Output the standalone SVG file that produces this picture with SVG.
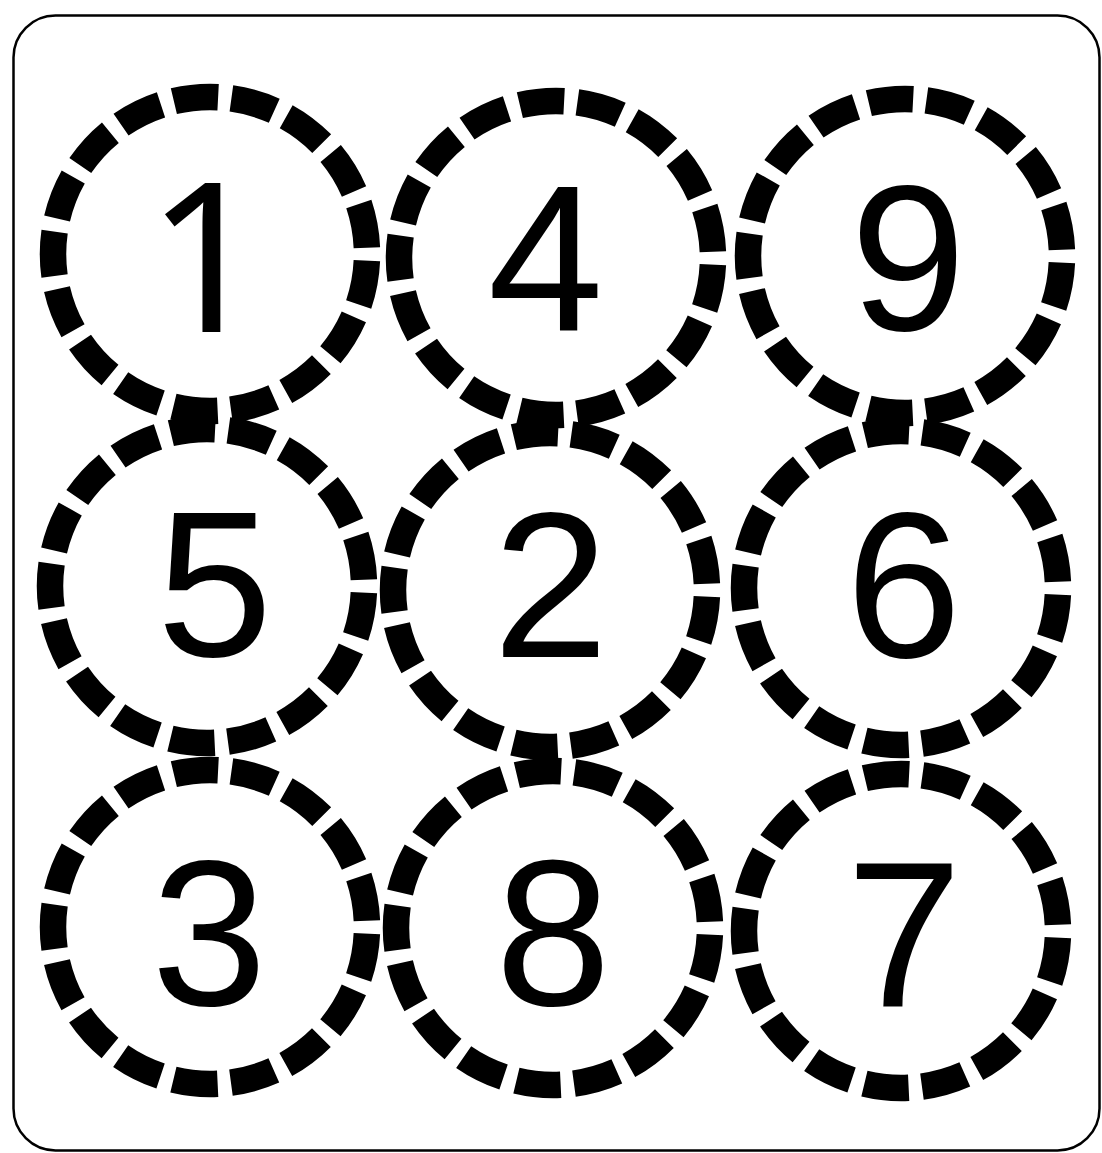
<svg xmlns="http://www.w3.org/2000/svg" width="1102" height="1153" viewBox="0 0 1102 1153">
<style>
.ring{fill:none;stroke:#000;stroke-width:26.5;stroke-dasharray:44.68 13.35;stroke-dashoffset:51.35}
.num{font-family:"Liberation Sans",Arial,sans-serif;font-size:208px;fill:#000;text-anchor:middle}
.one{font-family:"Noto Sans","Liberation Sans",sans-serif}
.frame{fill:#fff;stroke:#000;stroke-width:2.5}
</style>
<rect width="1102" height="1153" fill="#fff"/>
<rect class="frame" x="13.5" y="15.5" width="1086" height="1135" rx="42" ry="42"/>
<g id="connectors"></g>
<g id="n1"><circle class="ring" cx="210" cy="254" r="157"/><text class="num one" x="206" y="332">1</text></g>
<g id="n4"><circle class="ring" cx="556" cy="258" r="157"/><text class="num" x="545.5" y="330">4</text></g>
<g id="n9"><circle class="ring" cx="905" cy="256" r="157"/><text class="num" x="908" y="330">9</text></g>
<g id="n5"><circle class="ring" cx="207" cy="586" r="157"/><text class="num" x="214.5" y="656">5</text></g>
<g id="n2"><circle class="ring" cx="550" cy="590" r="157"/><text class="num" x="550.5" y="657">2</text></g>
<g id="n6"><circle class="ring" cx="901" cy="588" r="157"/><text class="num" x="903.5" y="657">6</text></g>
<g id="n3"><circle class="ring" cx="210" cy="927" r="157"/><text class="num" x="209" y="1005">3</text></g>
<g id="n8"><circle class="ring" cx="553" cy="928" r="157"/><text class="num" x="553" y="1005">8</text></g>
<g id="n7"><circle class="ring" cx="901" cy="931" r="157"/><text class="num" x="904" y="1007">7</text></g>
</svg>
